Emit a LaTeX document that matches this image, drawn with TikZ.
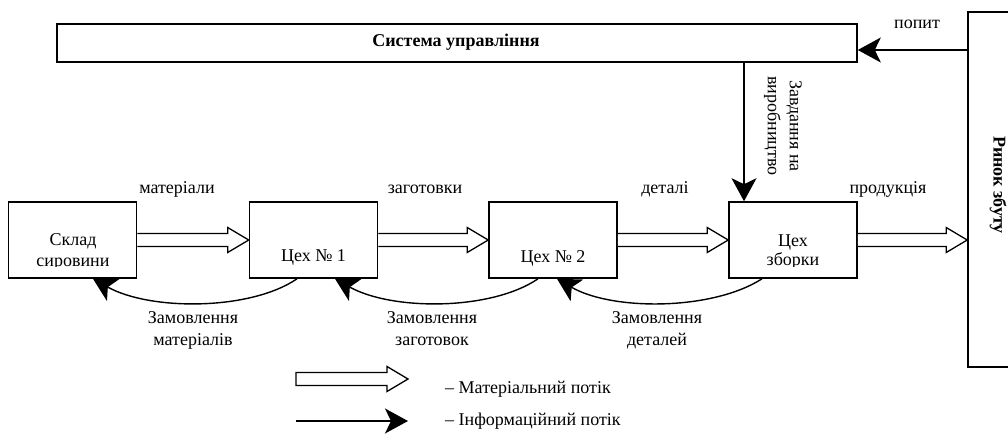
\documentclass[tikz,border=0pt]{standalone}
\usepackage{fontspec}
\setmainfont{Liberation Serif}
\usetikzlibrary{arrows.meta,calc}
\newcommand{\matarrow}[3]{%
  \draw[matl] let \p1=(#1), \p2=(#2) in
    (\x1,\y1+6.5pt) -- (\x2-21pt,\y1+6.5pt) -- (\x2-21pt,\y1+12.5pt) -- (\x2,\y1)
    -- (\x2-21pt,\y1-12.5pt) -- (\x2-21pt,\y1-6.5pt) -- (\x1,\y1-6.5pt) #3;}
\begin{document}
\begin{tikzpicture}[x=1pt,y=-1pt,
  box/.style={draw, line width=1.6pt, minimum width=128pt, minimum height=76pt, inner sep=0pt},
  lbl/.style={inner sep=0pt, font=\fontsize{18}{20}\selectfont},
  info/.style={line width=1.4pt, -{Stealth[length=23pt,width=25pt,inset=6pt]}},
  matl/.style={line width=1.3pt, line join=miter, fill=white},
]
\useasboundingbox (0,0) rectangle (1008,434);
\clip (0,0) rectangle (1008,434);

% main boxes
\node[box, minimum width=800pt, minimum height=38pt] (sys) at (457,43) {};
\node[lbl, anchor=base, font=\fontsize{18}{20}\selectfont\bfseries] (sysT) at (456,46) {Система управління};
\node[box, minimum width=60pt, minimum height=355pt] (ryn) at (998,189.5) {};
\node[lbl, rotate=-90, font=\fontsize{18}{20}\selectfont\bfseries] (rynT) at (998,185) {Ринок збуту};

\node[box] (sklad) at (72.5,240) {};
\node[box] (c1) at (313.5,240) {};
\node[box] (c2) at (553,240) {};
\node[box] (zb) at (793,240) {};

\begin{scope}
  \clip (9,203) rectangle (136,266.5);
  \node[lbl, anchor=base] (skladT1) at (73,245) {Склад};
  \node[lbl, anchor=base] (skladT2) at (73,266) {сировини};
\end{scope}
\node[lbl, anchor=base] (c1T) at (313.5,261) {Цех № 1};
\node[lbl, anchor=base] (c2T) at (553,262) {Цех № 2};
\begin{scope}
  \clip (730,203) rectangle (856,266.5);
  \node[lbl, anchor=base] (zbT1) at (793,246) {Цех};
  \node[lbl, anchor=base] (zbT2) at (793,265.5) {зборки};
\end{scope}

% material flows
\matarrow{sklad.east}{c1.west}{}
\matarrow{c1.east}{c2.west}{}
\matarrow{c2.east}{zb.west}{}
\matarrow{zb.east}{ryn.west |- zb.east}{}

\node[lbl, anchor=base] (m1) at (177,193) {матеріали};
\node[lbl, anchor=base] (m2) at (425,193) {заготовки};
\node[lbl, anchor=base] (m3) at (665,193) {деталі};
\node[lbl, anchor=base] (m4) at (888,193) {продукція};

% information flows
\coordinate (sysIn) at ([yshift=-7pt]sys.east);
\draw[info] (ryn.west |- sysIn) -- (sysIn);
\node[lbl, anchor=base] (popit) at (917,28) {попит};

\coordinate (zbIn) at ([xshift=-49pt]zb.north);
\draw[info] (zbIn |- sys.south) -- (zbIn);
\node[lbl, rotate=-90, align=center] (zavd) at (783,126) {Завдання на\\[2pt]виробництво};

\draw[info] ([xshift=-16.5pt]c1.south) .. controls +(-47,32) and +(57,32) .. ([xshift=20.5pt]sklad.south);
\draw[info] ([xshift=-15pt]c2.south) .. controls +(-47,32) and +(57,32) .. ([xshift=21.5pt]c1.south);
\draw[info] ([xshift=-31pt]zb.south) .. controls +(-50,32) and +(55,32) .. ([xshift=4pt]c2.south);

\node[lbl, anchor=base] (o1a) at (193,323) {Замовлення};
\node[lbl, anchor=base] (o1b) at (193,345) {матеріалів};
\node[lbl, anchor=base] (o2a) at (432,323) {Замовлення};
\node[lbl, anchor=base] (o2b) at (432,345) {заготовок};
\node[lbl, anchor=base] (o3a) at (657,323) {Замовлення};
\node[lbl, anchor=base] (o3b) at (657,345) {деталей};

% legend
\coordinate (legA1) at (296,379);
\coordinate (legA2) at (408,379);
\coordinate (legB1) at (296,421);
\coordinate (legB2) at (408,421);
\matarrow{legA1}{legA2}{-- cycle}
\draw[info] (legB1) -- (legB2);
\node[lbl, anchor=base west] (legAT) at (445,393) {– Матеріальний потік};
\node[lbl, anchor=base west] (legBT) at (445,425) {– Інформаційний потік};
\end{tikzpicture}
\end{document}
